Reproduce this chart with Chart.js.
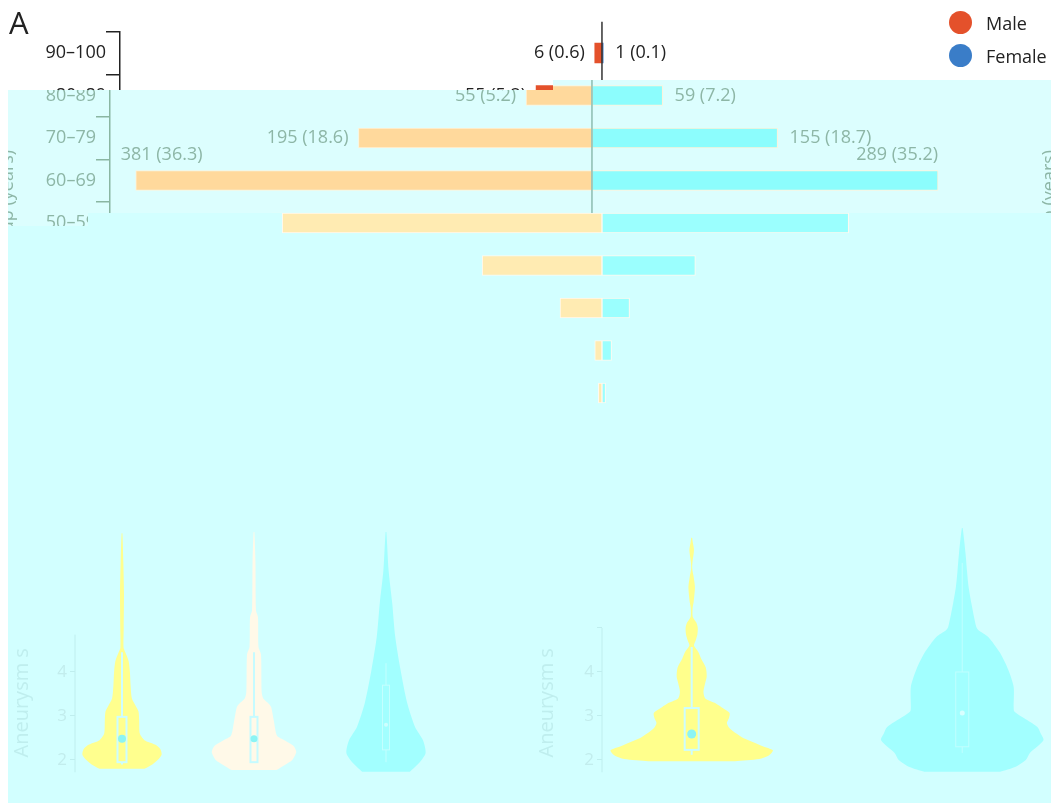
<!DOCTYPE html>
<html>
<head>
<title>Age pyramid and aneurysm size</title>
<script src="https://cdn.jsdelivr.net/npm/chart.js"></script>
<style>
  body {
  margin: 0;
  width: 1051px;
  height: 805px;
  overflow: hidden;
  background-color: #fff;
  font-family: "Open Sans", sans-serif;
  position: relative;
}
canvas, .layer, #panelLabel, #legend {
  position: absolute;
}
#panelLabel {
  left: 9px;
  top: 1px;
  font-size: 31px;
  color: #222;
}
#legend {
  left: 949px;
  top: 6px;
  font-size: 18px;
  color: #222;
}
#legend div {
  height: 33px;
  display: flex;
  align-items: center;
}
#legend span {
  width: 23px;
  height: 23px;
  border-radius: 50%;
  margin-right: 14px;
}
#bandB {
  left: 8px;
  top: 80px;
  width: 1043px;
  height: 150px;
  overflow: hidden;
  background-color: #dcfefe;
  clip-path: polygon(0 10px, 545px 10px, 545px 0, 100% 0, 100% 100%, 0 100%);
}
#bandC {
  left: 8px;
  top: 213px;
  width: 1043px;
  height: 590px;
  overflow: hidden;
  background-color: #d2ffff;
  clip-path: polygon(0 13px, 80px 13px, 80px 0, 100% 0, 100% 100%, 0 100%);
}
</style>
</head>
<body>
<canvas id="pyrA" width="1070" height="440" style="left:0;top:0"></canvas>
<div id="panelLabel">A</div>
<div id="legend"></div>

<div class="layer" id="bandB">
  <canvas id="pyrB" width="1070" height="440" style="left:-18px;top:-80px"></canvas>
</div>

<div class="layer" id="bandC">
  <canvas id="pyrC" width="1070" height="440" style="left:-8px;top:-213px"></canvas>
  <canvas id="vioL" width="525" height="300" style="left:-8px;top:287px"></canvas>
  <canvas id="vioR" width="526" height="300" style="left:517px;top:287px"></canvas>
</div>

<script>
// ---- age pyramid ----
const ageGroups = ['90–100', '80–89', '70–79', '60–69', '50–59', '40–49', '30–39', '20–29', '10–19'];
const maleCounts = [6, 55, 195, 381, 267, 100, 35, 6, 3];
const malePct = [0.6, 5.2, 18.6, 36.3, 25.4, 9.5, 3.3, 0.6, 0.3];
const femaleCounts = [1, 59, 155, 289, 206, 78, 23, 8, 3];
const femalePct = [0.1, 7.2, 18.7, 35.2, 25.1, 9.5, 2.8, 1.0, 0.4];
const seriesNames = ['Male', 'Female'];

// ---- violins: [size, half width in group units] ----
const violinL1 = [[1.80, .17], [1.90, .23], [2.00, .27], [2.12, .30], [2.25, .29], [2.35, .25], [2.45, .17],
  [2.60, .135], [2.90, .13], [3.10, .125], [3.25, .10], [3.40, .075], [3.70, .065], [4.00, .06], [4.25, .05],
  [4.45, .025], [4.55, .012], [5.00, .013], [5.80, .015], [6.50, .01], [7.15, .003]];
const violinL2 = [[1.77, .17], [1.90, .24], [2.00, .29], [2.18, .32], [2.32, .30], [2.45, .23], [2.55, .175],
  [2.90, .15], [3.20, .13], [3.30, .105], [3.40, .07], [3.55, .058], [4.40, .053], [4.57, .034], [5.25, .03],
  [5.40, .015], [6.50, .011], [7.18, .003]];
const violinL3 = [[1.73, .18], [1.93, .25], [2.16, .30], [2.45, .28], [2.75, .22], [3.30, .16], [4.05, .11],
  [4.80, .07], [5.57, .047], [6.30, .02], [7.18, .003]];
const violinR1 = [[1.97, .32], [2.02, .50], [2.10, .57], [2.22, .60], [2.32, .52], [2.40, .46], [2.50, .38],
  [2.60, .33], [2.72, .28], [2.84, .26], [2.95, .275], [3.07, .28], [3.20, .22], [3.30, .17], [3.40, .10],
  [3.55, .087], [3.75, .10], [3.90, .111], [4.10, .104], [4.30, .07], [4.45, .05], [4.60, .017], [4.72, .03],
  [4.85, .042], [5.00, .045], [5.12, .035], [5.25, .008], [5.45, .007], [5.60, .015], [5.93, .024], [6.15, .015],
  [6.35, .004], [6.50, .006], [6.77, .017], [6.95, .008], [7.05, .003]];
const violinR2 = [[1.73, .28], [1.84, .39], [2.00, .47], [2.16, .50], [2.45, .60], [2.60, .58], [2.75, .555],
  [2.98, .44], [3.10, .385], [3.20, .38], [3.66, .38], [4.05, .34], [4.43, .28], [4.80, .19], [4.95, .12],
  [5.02, .104], [5.57, .067], [5.93, .047], [6.30, .035], [6.70, .024], [7.27, .003]];
// whisker low, q1, median, q3, whisker high
const boxL1 = [1.90, 1.95, 2.48, 2.98, 4.45];
const boxL2 = [1.93, 1.95, 2.48, 2.98, 4.45];
const boxL3 = [1.95, 2.23, 2.80, 3.70, 4.20];
const boxR1 = [2.12, 2.23, 2.59, 3.18, 4.57];
const boxR2 = [2.16, 2.30, 3.07, 4.00, 6.48];
const sizeTicks = [2, 3, 4, 5];

const FONT = '"Open Sans", sans-serif';
const AXIS_TITLE = 'Age group (years)';

const pyramidExtras = {
  id: 'pyramidExtras',
  afterDatasetsDraw(chart, args, o) {
    const ctx = chart.ctx;
    const area = chart.chartArea;
    const x0 = chart.scales.x.getPixelForValue(0);
    ctx.save();
    ctx.strokeStyle = o.centre;
    ctx.lineWidth = 1.5;
    ctx.beginPath();
    ctx.moveTo(x0, area.top - 10);
    ctx.lineTo(x0, area.bottom);
    ctx.stroke();

    ctx.font = '18px ' + FONT;
    ctx.fillStyle = o.text;
    ctx.textBaseline = 'middle';
    chart.data.datasets.forEach((ds, di) => {
      const male = di === 0;
      chart.getDatasetMeta(di).data.forEach((bar, i) => {
        const n = Math.abs(ds.data[i]);
        const txt = n + ' (' + ds.pct[i].toFixed(1) + ')';
        if (n > 280) {
          // long bars get their label above the bar
          ctx.textAlign = male ? 'left' : 'right';
          ctx.fillText(txt, male ? bar.x - 15 : bar.x, bar.y - 26);
        } else {
          ctx.textAlign = male ? 'right' : 'left';
          ctx.fillText(txt, male ? bar.x - 10 : bar.x + 12, bar.y);
        }
      });
    });

    // second axis title on the right, same reading direction as the left one
    ctx.translate(area.right + 12, (area.top + area.bottom) / 2);
    ctx.rotate(-Math.PI / 2);
    ctx.textAlign = 'center';
    ctx.fillText(AXIS_TITLE, 0, 0);
    ctx.restore();
  }
};

function makePyramid(id, st) {
  const font = { family: FONT, size: 18 };
  return new Chart(document.getElementById(id), {
    type: 'bar',
    data: {
      labels: ageGroups,
      datasets: [{
        label: seriesNames[0],
        data: maleCounts.map(v => -v),
        pct: malePct,
        backgroundColor: st.male,
        borderColor: st.edge,
        borderWidth: st.edgeWidth,
        borderSkipped: false,
        barThickness: 20
      }, {
        label: seriesNames[1],
        data: femaleCounts,
        pct: femalePct,
        backgroundColor: st.female,
        borderColor: st.edge,
        borderWidth: st.edgeWidth,
        borderSkipped: false,
        barThickness: 20
      }]
    },
    options: {
      indexAxis: 'y',
      responsive: false,
      animation: false,
      devicePixelRatio: 1,
      layout: { padding: { top: 31.75, bottom: 25.75, left: 0, right: 22 } },
      plugins: {
        legend: { display: false },
        tooltip: { enabled: false },
        pyramidExtras: { text: st.text, centre: st.centre }
      },
      scales: {
        x: { type: 'linear', min: -402.5, max: 372.5, stacked: true, display: false },
        y: {
          stacked: true,
          grid: { offset: true, drawOnChartArea: false, tickLength: 14, color: st.axis, lineWidth: 1.5 },
          border: { color: st.axis, width: 1.5 },
          ticks: { color: st.text, font: font, padding: 0 },
          title: { display: true, text: AXIS_TITLE, color: st.text, font: font, padding: { top: 7, bottom: 0 } },
          afterFit: s => { s.width = 120; }
        }
      }
    },
    plugins: [pyramidExtras]
  });
}

makePyramid('pyrA', { male: '#e4512b', female: '#3a7dc8', edge: 'rgba(0,0,0,0)', edgeWidth: 0,
  text: '#222', axis: '#222', centre: '#333' });
makePyramid('pyrB', { male: '#ffd99c', female: '#8cfdfd', edge: '#fff2d8', edgeWidth: 1,
  text: '#8db6a6', axis: '#8ab6a2', centre: '#8cbcb0' });
makePyramid('pyrC', { male: '#ffebb2', female: '#9bfffe', edge: '#fffaf0', edgeWidth: 1,
  text: 'rgba(0,0,0,0)', axis: 'rgba(0,0,0,0)', centre: 'rgba(0,0,0,0)' });

// legend
const legendColors = ['#e4512b', '#3a7dc8'];
document.getElementById('legend').innerHTML = seriesNames.map((n, i) =>
  `<div><span style="background:${legendColors[i]}"></span>${n}</div>`).join('');

// ---- violin panels ----
const violinExtras = {
  id: 'violinExtras',
  afterDatasetsDraw(chart, args, o) {
    const ctx = chart.ctx;
    const xs = chart.scales.x, ys = chart.scales.y;
    ctx.save();
    // axis line, only up to the visible top
    ctx.strokeStyle = o.faint;
    ctx.lineWidth = 1;
    ctx.beginPath();
    ctx.moveTo(ys.right, ys.getPixelForValue(1.72));
    ctx.lineTo(ys.right, ys.getPixelForValue(o.axisTop));
    ctx.stroke();
    // axis title
    ctx.translate(o.titleX, ys.getPixelForValue(3.3));
    ctx.rotate(-Math.PI / 2);
    ctx.font = '20px ' + FONT;
    ctx.fillStyle = o.faint;
    ctx.textAlign = 'center';
    ctx.textBaseline = 'middle';
    ctx.fillText(o.title, 0, 0);
    ctx.restore();

    ctx.save();
    o.groups.forEach(g => {
      const x = xs.getPixelForValue(g.pos);
      const b = g.box.map(v => ys.getPixelForValue(v));
      ctx.strokeStyle = g.boxColor;
      ctx.lineWidth = g.boxLine;
      ctx.beginPath();
      ctx.moveTo(x, b[0]); ctx.lineTo(x, b[1]);
      ctx.moveTo(x, b[3]); ctx.lineTo(x, b[4]);
      ctx.stroke();
      ctx.strokeRect(x - g.boxHalf, b[3], g.boxHalf * 2, b[1] - b[3]);
      ctx.fillStyle = g.dot;
      ctx.beginPath();
      ctx.arc(x, b[2], g.dotR, 0, Math.PI * 2);
      ctx.fill();
    });
    ctx.restore();
  }
};

function violinPoints(shape, pos) {
  const left = shape.map(p => ({ x: pos - p[1], y: p[0] }));
  const right = shape.slice().reverse().map(p => ({ x: pos + p[1], y: p[0] }));
  return left.concat(right);
}

function makeViolins(id, groups, xMin, xMax, axisWidth, axisTop, titleX, shownTicks) {
  return new Chart(document.getElementById(id), {
    type: 'scatter',
    data: {
      datasets: groups.map(g => ({
        data: violinPoints(g.shape, g.pos),
        showLine: true,
        fill: 'shape',
        backgroundColor: g.color,
        borderWidth: 0,
        pointRadius: 0,
        tension: 0.25
      }))
    },
    options: {
      responsive: false,
      animation: false,
      devicePixelRatio: 1,
      layout: { padding: { top: 22.4, bottom: 27.7, left: 0, right: 0 } },
      plugins: {
        legend: { display: false },
        tooltip: { enabled: false },
        violinExtras: { groups: groups, faint: '#bfeeee', axisTop: axisTop, titleX: titleX, title: 'Aneurysm s' }
      },
      scales: {
        x: { type: 'linear', min: xMin, max: xMax, display: false },
        y: {
          min: 1.72,
          max: 7.4,
          border: { display: false },
          grid: {
            drawOnChartArea: false,
            tickLength: 5,
            color: c => c.tick && c.tick.value <= axisTop ? '#bfeeee' : 'rgba(0,0,0,0)'
          },
          ticks: {
            stepSize: 1,
            includeBounds: false,
            padding: 3,
            color: '#c2eded',
            font: { family: FONT, size: 17 },
            callback: v => shownTicks.includes(v) ? v : ''
          },
          afterFit: s => { s.width = axisWidth; }
        }
      }
    },
    plugins: [violinExtras]
  });
}

makeViolins('vioL', [
  { pos: 0, shape: violinL1, color: '#ffff8e', box: boxL1, boxColor: '#cdfdff', boxLine: 2, boxHalf: 4.5, dot: '#8cf4f4', dotR: 4 },
  { pos: 1, shape: violinL2, color: '#fff9e8', box: boxL2, boxColor: '#c6fbff', boxLine: 2, boxHalf: 3.5, dot: '#8cf4f4', dotR: 3.5 },
  { pos: 2, shape: violinL3, color: '#a2ffff', box: boxL3, boxColor: '#c4ffff', boxLine: 1, boxHalf: 3.5, dot: '#cfffff', dotR: 2 }
], -0.356, 3.053, 75, 4.85, 22, sizeTicks.slice(0, 3));

makeViolins('vioR', [
  { pos: 0, shape: violinR1, color: '#ffff8c', box: boxR1, boxColor: '#cdfdff', boxLine: 2, boxHalf: 7, dot: '#8cf4f4', dotR: 4.5 },
  { pos: 2, shape: violinR2, color: '#a2ffff', box: boxR2, boxColor: '#c0ffff', boxLine: 1, boxHalf: 6.5, dot: '#d8ffff', dotR: 2.5 }
], -0.663, 2.656, 77, 5.0, 22, sizeTicks.slice(0, 3));
</script>
</body>
</html>
